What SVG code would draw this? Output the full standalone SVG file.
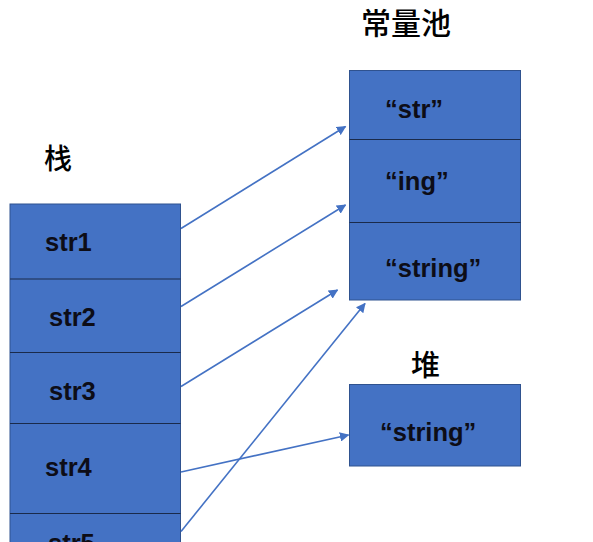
<svg xmlns="http://www.w3.org/2000/svg" width="593" height="542" viewBox="0 0 593 542">
<defs>
<style>
.box{fill:#4472C4;stroke:#2F528F;stroke-width:1}
.div{stroke:#1a2a4a;stroke-width:1.2}
.lbl{font-family:"Liberation Sans",Arial,sans-serif;font-weight:bold;font-size:25.5px;fill:#0d0d17}
.title{font-family:"Noto Sans CJK SC","Noto Sans",sans-serif;font-weight:500;fill:#000}
.conn{stroke:#4472C4;stroke-width:1.6;fill:none;marker-end:url(#ah)}
</style>
<marker id="ah" viewBox="0 0 10 10" refX="9" refY="5" markerWidth="6" markerHeight="6" orient="auto" markerUnits="strokeWidth">
<path d="M0,0 L10,5 L0,10 z" fill="#4472C4"/>
</marker>
</defs>
<rect width="593" height="542" fill="#fff"/>
<g id="stack">
<text class="title" x="44" y="169" font-size="28">栈</text>
<rect class="box" x="10" y="204" width="170.5" height="345"/>
<line class="div" x1="10" y1="279" x2="180.5" y2="279"/>
<line class="div" x1="10" y1="352.5" x2="180.5" y2="352.5"/>
<line class="div" x1="10" y1="423.5" x2="180.5" y2="423.5"/>
<line class="div" x1="10" y1="513.5" x2="180.5" y2="513.5"/>
</g>
<g id="str1"><text class="lbl" x="45" y="251">str1</text></g>
<g id="str2"><text class="lbl" x="49" y="326">str2</text></g>
<g id="str3"><text class="lbl" x="49" y="400">str3</text></g>
<g id="str4"><text class="lbl" x="45" y="476">str4</text></g>
<g id="str5"><text class="lbl" x="48" y="552">str5</text></g>
<g id="pool">
<text class="title" x="361" y="34" font-size="30">常量池</text>
<rect class="box" x="349.5" y="70.5" width="171" height="229.5"/>
<line class="div" x1="349.5" y1="139.5" x2="520.5" y2="139.5"/>
<line class="div" x1="349.5" y1="222.5" x2="520.5" y2="222.5"/>
</g>
<g id="c-str"><text class="lbl" x="385" y="118">“str”</text></g>
<g id="c-ing"><text class="lbl" x="385" y="190">“ing”</text></g>
<g id="c-string"><text class="lbl" x="385" y="277">“string”</text></g>
<g id="heap">
<text class="title" x="411" y="376" font-size="29">堆</text>
<rect class="box" x="349.5" y="384.5" width="171" height="81.5"/>
<text class="lbl" x="380" y="441">“string”</text>
</g>
<g id="connectors">
<line class="conn" x1="181" y1="228.5" x2="345.5" y2="126.5"/>
<line class="conn" x1="181" y1="306.5" x2="345.5" y2="205"/>
<line class="conn" x1="181" y1="386.5" x2="337.5" y2="290"/>
<line class="conn" x1="181" y1="472" x2="348.5" y2="435"/>
<line class="conn" x1="181" y1="531.5" x2="365" y2="303.5"/>
</g>
</svg>
